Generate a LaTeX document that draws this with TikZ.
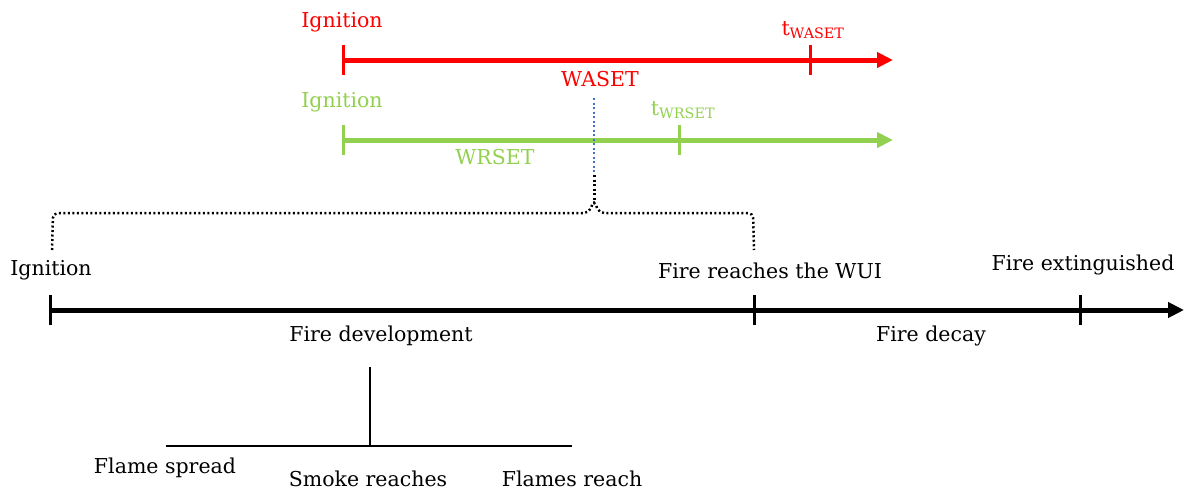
\documentclass[tikz,border=0pt]{standalone}
\usepackage{fontspec}
\setmainfont{DejaVu Serif}
\usetikzlibrary{arrows.meta}

\definecolor{myred}{HTML}{FF0000}
\definecolor{mygreen}{HTML}{92D050}
\definecolor{myblue}{HTML}{4472C4}

\begin{document}
\begin{tikzpicture}[x=1pt,y=-1pt,
  axis/.style={line width=5pt},
  tick/.style={line width=3pt},
  dots/.style={line width=2.5pt, dash pattern=on 2pt off 2.5pt},
  lbl/.style={font=\fontsize{20.5}{23}\selectfont, inner sep=0pt}]

  \useasboundingbox (0,0) rectangle (1190,490);

  % rote Zeitachse (WASET)
  \coordinate (ra) at (343,60);
  \coordinate (rb) at (893,60);
  \draw[axis, myred, -{Triangle[length=16pt,width=15pt]}] (ra) -- (rb);
  \foreach \x in {343,810}
    \draw[tick, myred] (\x,45) -- (\x,75);  %Markierungen
  \node[lbl, text=myred] (rign) at (342,22) {Ignition};
  \node[lbl, text=myred] (rt) at (813,30) {t\textsubscript{WASET}};
  \node[lbl, text=myred] (rwaset) at (600,79) {WASET};

  % gruene Zeitachse (WRSET)
  \coordinate (ga) at (343,140);
  \coordinate (gb) at (893,140);
  \draw[axis, mygreen, -{Triangle[length=16pt,width=15pt]}] (ga) -- (gb);
  \foreach \x in {343,679}
    \draw[tick, mygreen] (\x,125) -- (\x,155);  %Markierungen
  \node[lbl, text=mygreen] (gign) at (342,102) {Ignition};
  \node[lbl, text=mygreen] (gt) at (683,110) {t\textsubscript{WRSET}};
  \node[lbl, text=mygreen] (gwrset) at (495,157) {WRSET};

  % gepunktete Verbindung
  \coordinate (top) at (594,98);
  \coordinate (mid) at (594,175);
  \coordinate (peak) at (594,200);
  \draw[dots, myblue, line width=2pt] (top) -- (mid);
  \draw[dots, line width=3pt] (mid) -- (peak);
  \draw[dots, rounded corners=5pt] (52,250) -- (53,213)
    -- (589,213) -- (peak) -- (599,213) -- (753,213) -- (754,250); %Klammer

  % schwarze Zeitachse
  \coordinate (ba) at (50,310);
  \coordinate (bb) at (1184,310);
  \draw[axis, -{Triangle[length=16pt,width=15pt]}] (ba) -- (bb);
  \foreach \x in {50,754,1080}
    \draw[tick] (\x,295) -- (\x,325);  %Markierungen
  \node[lbl] (ign) at (51,270) {Ignition};
  \node[lbl] (wui) at (770,271) {Fire reaches the WUI};
  \node[lbl] (ext) at (1083,265) {Fire extinguished};
  \node[lbl] (dev) at (381,336) {Fire development};
  \node[lbl] (decay) at (931,336) {Fire decay};

  % Unterteilung der Entwicklung
  \node[lbl] (spread) at (165,468) {Flame spread};
  \node[lbl] (smoke) at (368,479) {Smoke reaches};
  \node[lbl] (flames) at (572,479) {Flames reach};
  \coordinate (stem) at (370,367);
  \coordinate (fork) at (370,446);
  \draw[line width=1.5pt] (stem) -- (fork);
  \draw[line width=1.5pt] (166,446) -- (572,446);
\end{tikzpicture}
\end{document}
